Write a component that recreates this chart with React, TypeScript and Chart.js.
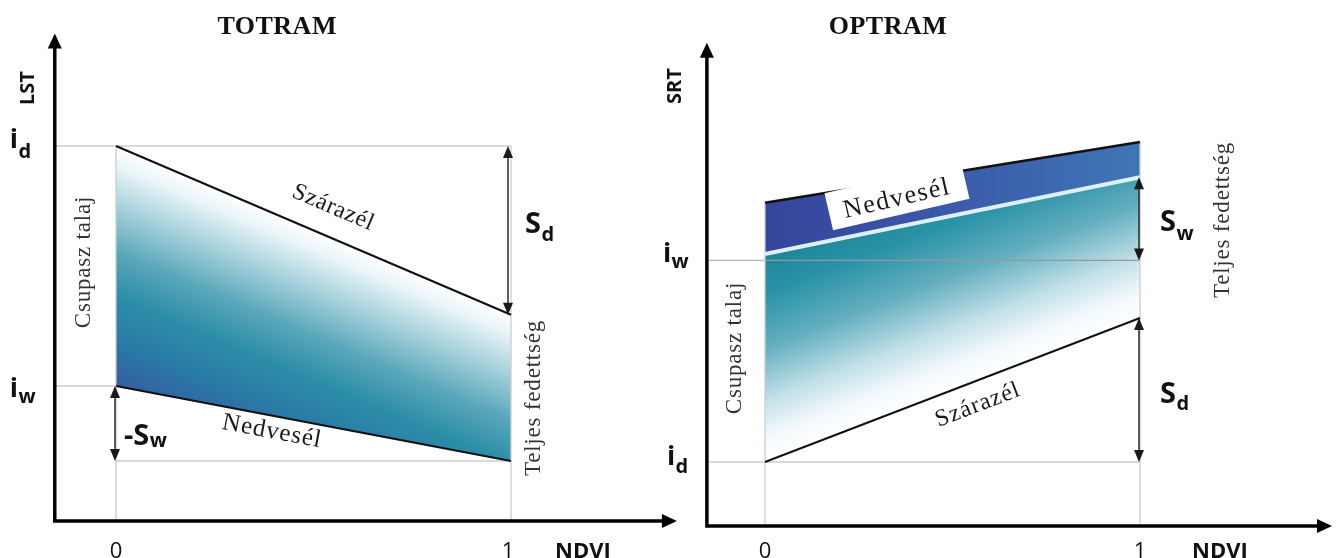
import React, { useEffect, useRef } from "react";
import { Chart, registerables } from "chart.js";

Chart.register(...registerables);

const W = 1336;
const H = 558;

// ---------------- data ----------------
const NDVI = [0, 1];
const NDVI_TICKS = ["0", "1"];
const PANEL_TITLES = ["TOTRAM", "OPTRAM"];
const Y_AXIS_NAMES = ["LST", "SRT"];
const X_AXIS_NAME = "NDVI";

// TOTRAM: LST at NDVI = 0 and NDVI = 1
const TOTRAM_DRY_EDGE = [10, 5.5];
const TOTRAM_WET_EDGE = [3.6, 1.6];
const TOTRAM_ID = 10;
const TOTRAM_IW = 3.6;

// OPTRAM: SRT at NDVI = 0 and NDVI = 1
const OPTRAM_TOP_EDGE = [10.1, 12.0];
const OPTRAM_WET_EDGE = [8.5, 10.9];
const OPTRAM_DRY_EDGE = [2.0, 6.5];
const OPTRAM_IW = 8.3;
const OPTRAM_ID = 2.0;

// axis extents (data units)
const AXIS_NDVI = -0.155;
const TOTRAM_X_END = 1.42;
const TOTRAM_Y_TOP = 13;
const OPTRAM_X_END = 1.512;
const OPTRAM_Y_TOP = 15.1;

// label box on the OPTRAM wet edge
const OPTRAM_WET_LABEL_POS = [0.352, 10.31];

// ---------------- helpers ----------------
const SERIF = '"Liberation Serif", "Times New Roman", serif';
const SANS = '"Open Sans", "Liberation Sans", sans-serif';

function xRange(p0: number, p1: number) {
  const k = p1 - p0;
  return { min: -p0 / k, max: (W - p0) / k };
}
function yRange(pZero: number, pTen: number) {
  const k = (pTen - pZero) / 10;
  return { min: (H - pZero) / k, max: -pZero / k };
}

const pts = (ys: number[]) => NDVI.map((x, i) => ({ x, y: ys[i] }));
const lerp = (arr: number[], t: number) => arr[0] + (arr[1] - arr[0]) * t;

function edgeGradient(
  chart: any,
  xId: string,
  yId: string,
  edge: number[],
  farY: number,
  stops: [number, string][]
) {
  const xs = chart.scales[xId];
  const ys = chart.scales[yId];
  if (!chart.chartArea || !xs || !ys) return "rgba(0,0,0,0)";
  const ax = xs.getPixelForValue(NDVI[0]);
  const ay = ys.getPixelForValue(edge[0]);
  const bx = xs.getPixelForValue(NDVI[1]);
  const by = ys.getPixelForValue(edge[1]);
  const len = Math.hypot(bx - ax, by - ay);
  let nx = -(by - ay) / len;
  let ny = (bx - ax) / len;
  const fy = ys.getPixelForValue(farY);
  let d = (fy - ay) * ny;
  if (d < 0) {
    nx = -nx;
    ny = -ny;
    d = -d;
  }
  const g = chart.ctx.createLinearGradient(ax, ay, ax + nx * d, ay + ny * d);
  stops.forEach(([o, c]) => g.addColorStop(o, c));
  return g;
}

function bandGradient(chart: any) {
  const xs = chart.scales.x2;
  if (!chart.chartArea || !xs) return "rgba(0,0,0,0)";
  const g = chart.ctx.createLinearGradient(
    xs.getPixelForValue(NDVI[0]),
    0,
    xs.getPixelForValue(NDVI[1]),
    0
  );
  g.addColorStop(0, "#36449c");
  g.addColorStop(0.45, "#3a58a8");
  g.addColorStop(1, "#3e76b5");
  return g;
}

function text(
  c: CanvasRenderingContext2D,
  s: string,
  x: number,
  y: number,
  font: string,
  o: { angle?: number; align?: CanvasTextAlign; baseline?: CanvasTextBaseline; color?: string; ls?: number } = {}
) {
  c.save();
  c.translate(x, y);
  if (o.angle) c.rotate((o.angle * Math.PI) / 180);
  c.font = font;
  c.fillStyle = o.color || "#111";
  c.textAlign = o.align || "center";
  c.textBaseline = o.baseline || "middle";
  (c as any).letterSpacing = (o.ls || 0) + "px";
  c.fillText(s, 0, 0);
  c.restore();
}

function sub(
  c: CanvasRenderingContext2D,
  x: number,
  y: number,
  main: string,
  s: string,
  mainSize: number,
  subSize: number,
  dy: number
) {
  c.save();
  c.fillStyle = "#111";
  c.textAlign = "left";
  c.textBaseline = "alphabetic";
  c.font = `bold ${mainSize}px ${SANS}`;
  c.fillText(main, x, y);
  const w = c.measureText(main).width;
  c.font = `bold ${subSize}px ${SANS}`;
  c.fillText(s, x + w + 0.5, y + dy);
  c.restore();
}

function head(c: CanvasRenderingContext2D, x: number, y: number, dx: number, dy: number, len: number, half: number) {
  const l = Math.hypot(dx, dy);
  const ux = dx / l;
  const uy = dy / l;
  const bx = x - ux * len;
  const by = y - uy * len;
  c.beginPath();
  c.moveTo(x, y);
  c.lineTo(bx - uy * half, by + ux * half);
  c.lineTo(bx + uy * half, by - ux * half);
  c.closePath();
  c.fill();
}

function doubleArrow(c: CanvasRenderingContext2D, x: number, yTop: number, yBot: number) {
  c.save();
  c.strokeStyle = "#2a2a2a";
  c.fillStyle = "#1a1a1a";
  c.lineWidth = 1.5;
  c.beginPath();
  c.moveTo(x, yTop + 6);
  c.lineTo(x, yBot - 6);
  c.stroke();
  head(c, x, yTop, 0, -1, 12, 5);
  head(c, x, yBot, 0, 1, 12, 5);
  c.restore();
}

function axisArrows(c: CanvasRenderingContext2D, ox: number, oy: number, topY: number, endX: number) {
  c.save();
  c.strokeStyle = "#000";
  c.fillStyle = "#000";
  c.lineWidth = 3.5;
  c.lineCap = "square";
  c.beginPath();
  c.moveTo(ox, topY + 10);
  c.lineTo(ox, oy);
  c.lineTo(endX - 10, oy);
  c.stroke();
  head(c, ox, topY, 0, -1, 15, 7);
  head(c, endX, oy, 1, 0, 15, 7);
  c.restore();
}

function hline(c: CanvasRenderingContext2D, x1: number, x2: number, y: number, color: string) {
  c.save();
  c.strokeStyle = color;
  c.lineWidth = 1.3;
  c.beginPath();
  c.moveTo(x1, y);
  c.lineTo(x2, y);
  c.stroke();
  c.restore();
}
function vline(c: CanvasRenderingContext2D, x: number, y1: number, y2: number, color: string) {
  c.save();
  c.strokeStyle = color;
  c.lineWidth = 1.3;
  c.beginPath();
  c.moveTo(x, y1);
  c.lineTo(x, y2);
  c.stroke();
  c.restore();
}

const diagramPlugin = {
  id: "diagram",
  beforeDatasetsDraw(chart: any) {
    const c: CanvasRenderingContext2D = chart.ctx;
    const X = chart.scales.x, Y = chart.scales.y, X2 = chart.scales.x2, Y2 = chart.scales.y2;
    const light = "#cdcdcd";
    // TOTRAM guides
    hline(c, X.getPixelForValue(AXIS_NDVI), X.getPixelForValue(1), Y.getPixelForValue(TOTRAM_ID), light);
    hline(c, X.getPixelForValue(AXIS_NDVI), X.getPixelForValue(0), Y.getPixelForValue(TOTRAM_IW), light);
    hline(c, X.getPixelForValue(0), X.getPixelForValue(1), Y.getPixelForValue(TOTRAM_WET_EDGE[1]), light);
    vline(c, X.getPixelForValue(0), Y.getPixelForValue(TOTRAM_ID), Y.getPixelForValue(0), light);
    vline(c, X.getPixelForValue(1), Y.getPixelForValue(TOTRAM_ID), Y.getPixelForValue(0), light);
    // OPTRAM guides
    hline(c, X2.getPixelForValue(AXIS_NDVI), X2.getPixelForValue(0), Y2.getPixelForValue(OPTRAM_IW), "#b5b5b5");
    hline(c, X2.getPixelForValue(0), X2.getPixelForValue(1), Y2.getPixelForValue(OPTRAM_IW), "#8f9a9e");
    hline(c, X2.getPixelForValue(AXIS_NDVI), X2.getPixelForValue(1), Y2.getPixelForValue(OPTRAM_ID), light);
    vline(c, X2.getPixelForValue(0), Y2.getPixelForValue(OPTRAM_TOP_EDGE[0]), Y2.getPixelForValue(0), light);
    vline(c, X2.getPixelForValue(1), Y2.getPixelForValue(OPTRAM_TOP_EDGE[1]), Y2.getPixelForValue(0), light);
  },
  afterDatasetsDraw(chart: any) {
    const c: CanvasRenderingContext2D = chart.ctx;
    const X = chart.scales.x, Y = chart.scales.y, X2 = chart.scales.x2, Y2 = chart.scales.y2;

    // ----- label box on OPTRAM wet edge -----
    {
      const bx = X2.getPixelForValue(OPTRAM_WET_LABEL_POS[0]);
      const by = Y2.getPixelForValue(OPTRAM_WET_LABEL_POS[1]);
      c.save();
      c.translate(bx, by);
      c.rotate((-13 * Math.PI) / 180);
      c.fillStyle = "#ffffff";
      c.fillRect(-70, -19, 140, 38);
      c.restore();
      text(c, "Nedvesél", bx, by + 3, `26px ${SERIF}`, { angle: -13, ls: 1.6, color: "#1a1a1a" });
    }

    // ----- double arrows -----
    doubleArrow(c, X.getPixelForValue(1) - 3, Y.getPixelForValue(TOTRAM_ID), Y.getPixelForValue(TOTRAM_DRY_EDGE[1]));
    doubleArrow(c, X.getPixelForValue(0) - 1, Y.getPixelForValue(TOTRAM_IW), Y.getPixelForValue(TOTRAM_WET_EDGE[1]));
    doubleArrow(c, X2.getPixelForValue(1) - 1, Y2.getPixelForValue(OPTRAM_WET_EDGE[1]), Y2.getPixelForValue(OPTRAM_IW));
    doubleArrow(c, X2.getPixelForValue(1) - 1, Y2.getPixelForValue(OPTRAM_DRY_EDGE[1]), Y2.getPixelForValue(OPTRAM_ID));

    // ----- axes -----
    const ax = X.getPixelForValue(AXIS_NDVI);
    const ay = Y.getPixelForValue(0);
    axisArrows(c, ax, ay, Y.getPixelForValue(TOTRAM_Y_TOP), X.getPixelForValue(TOTRAM_X_END));
    const ax2 = X2.getPixelForValue(AXIS_NDVI);
    const ay2 = Y2.getPixelForValue(0);
    axisArrows(c, ax2, ay2, Y2.getPixelForValue(OPTRAM_Y_TOP), X2.getPixelForValue(OPTRAM_X_END));

    // ----- titles -----
    text(c, PANEL_TITLES[0], X.getPixelForValue(0.408), 34, `bold 26px ${SERIF}`, { baseline: "alphabetic", ls: 0.5 });
    text(c, PANEL_TITLES[1], X2.getPixelForValue(0.328), 34, `bold 26px ${SERIF}`, { baseline: "alphabetic", ls: 0.5 });

    // ----- axis names -----
    text(c, Y_AXIS_NAMES[0], ax - 26, 88, `bold 20px ${SANS}`, { angle: -90 });
    text(c, Y_AXIS_NAMES[1], ax2 - 32, 86, `bold 20px ${SANS}`, { angle: -90 });
    NDVI.forEach((v, i) => {
      text(c, NDVI_TICKS[i], X.getPixelForValue(v) - (i === 1 ? 3 : 0), 558, `22px ${SANS}`, { baseline: "alphabetic" });
      text(c, NDVI_TICKS[i], X2.getPixelForValue(v), 558, `22px ${SANS}`, { baseline: "alphabetic" });
    });
    text(c, X_AXIS_NAME, X.getPixelForValue(1) + 72, 558, `bold 22px ${SANS}`, { baseline: "alphabetic" });
    text(c, X_AXIS_NAME, X2.getPixelForValue(1) + 80, 558, `bold 22px ${SANS}`, { baseline: "alphabetic" });

    // ----- intercept labels -----
    const yId = Y.getPixelForValue(TOTRAM_ID);
    const yIw = Y.getPixelForValue(TOTRAM_IW);
    sub(c, ax - 45, yId + 2, "i", "d", 27, 20, 10);
    sub(c, ax - 45, yIw + 11, "i", "w", 27, 20, 6);
    const yIw2 = Y2.getPixelForValue(OPTRAM_IW);
    const yId2 = Y2.getPixelForValue(OPTRAM_ID);
    sub(c, ax2 - 44, yIw2 + 2, "i", "w", 27, 20, 6);
    sub(c, ax2 - 40, yId2 + 3, "i", "d", 27, 20, 8);

    // ----- slope labels -----
    const sdMid = (yId + Y.getPixelForValue(TOTRAM_DRY_EDGE[1])) / 2;
    sub(c, X.getPixelForValue(1) + 14, sdMid + 3, "S", "d", 29, 20, 8);
    sub(c, X.getPixelForValue(0) + 8, Y.getPixelForValue(TOTRAM_WET_EDGE[1]) - 16, "-S", "w", 29, 20, 2);
    const swMid2 = (Y2.getPixelForValue(OPTRAM_WET_EDGE[1]) + yIw2) / 2;
    sub(c, X2.getPixelForValue(1) + 20, swMid2 + 12, "S", "w", 29, 20, 9);
    const sdMid2 = (Y2.getPixelForValue(OPTRAM_DRY_EDGE[1]) + yId2) / 2;
    sub(c, X2.getPixelForValue(1) + 20, sdMid2 + 13, "S", "d", 29, 20, 7);

    // ----- edge labels (rotated along the edges) -----
    const ang = (xs: any, ys: any, e: number[]) =>
      (Math.atan2(ys.getPixelForValue(e[1]) - ys.getPixelForValue(e[0]), xs.getPixelForValue(1) - xs.getPixelForValue(0)) * 180) / Math.PI;

    text(c, "Szárazél", X.getPixelForValue(0.55), Y.getPixelForValue(lerp(TOTRAM_DRY_EDGE, 0.55)) - 31, `24px ${SERIF}`, {
      angle: ang(X, Y, TOTRAM_DRY_EDGE),
      ls: 0.7,
      color: "#1a1a1a",
    });
    text(c, "Nedvesél", X.getPixelForValue(0.395), Y.getPixelForValue(lerp(TOTRAM_WET_EDGE, 0.395)) + 16, `25px ${SERIF}`, {
      angle: ang(X, Y, TOTRAM_WET_EDGE),
      ls: 1,
      color: "#1a1a1a",
    });
    text(c, "Szárazél", X2.getPixelForValue(0.568), Y2.getPixelForValue(lerp(OPTRAM_DRY_EDGE, 0.568)) + 25, `24px ${SERIF}`, {
      angle: ang(X2, Y2, OPTRAM_DRY_EDGE),
      ls: 1,
      color: "#1a1a1a",
    });

    // ----- vertical region labels -----
    text(c, "Csupasz talaj", X.getPixelForValue(0) - 32, 262, `23px ${SERIF}`, { angle: -90, ls: 0.8, color: "#333" });
    text(c, "Teljes fedettség", X.getPixelForValue(1) + 23, 398, `23px ${SERIF}`, { angle: -90, ls: 0.8, color: "#333" });
    text(c, "Csupasz talaj", X2.getPixelForValue(0) - 30, 348, `23px ${SERIF}`, { angle: -90, ls: 0.8, color: "#333" });
    text(c, "Teljes fedettség", X2.getPixelForValue(1) + 83, 220, `23px ${SERIF}`, { angle: -90, ls: 0.8, color: "#333" });
  },
};

export default function App() {
  const ref = useRef<HTMLCanvasElement>(null);

  useEffect(() => {
    const canvas = ref.current;
    if (!canvas) return;
    const chart = new Chart(canvas, {
      type: "line",
      data: {
        datasets: [
          {
            label: "TOTRAM száraz él",
            data: pts(TOTRAM_DRY_EDGE),
            xAxisID: "x",
            yAxisID: "y",
            borderColor: "#111",
            borderWidth: 2.2,
            fill: 1,
            backgroundColor: (ctx: any) =>
              edgeGradient(ctx.chart, "x", "y", TOTRAM_DRY_EDGE, TOTRAM_WET_EDGE[0], [
                [0, "#ffffff"],
                [0.08, "#eaf5f8"],
                [0.24, "#aad3dd"],
                [0.44, "#5aa7ba"],
                [0.62, "#2c8ea8"],
                [0.82, "#2a79a6"],
                [1, "#355ea2"],
              ]),
          },
          {
            label: "TOTRAM nedves él",
            data: pts(TOTRAM_WET_EDGE),
            xAxisID: "x",
            yAxisID: "y",
            borderColor: "#111",
            borderWidth: 2.2,
            fill: false,
          },
          {
            label: "OPTRAM felső",
            data: pts(OPTRAM_TOP_EDGE),
            xAxisID: "x2",
            yAxisID: "y2",
            borderColor: "#111",
            borderWidth: 2.6,
            fill: 3,
            backgroundColor: (ctx: any) => bandGradient(ctx.chart),
          },
          {
            label: "OPTRAM nedves él",
            data: pts(OPTRAM_WET_EDGE),
            xAxisID: "x2",
            yAxisID: "y2",
            borderColor: "#dcf0f5",
            borderWidth: 4,
            fill: 4,
            backgroundColor: (ctx: any) =>
              edgeGradient(ctx.chart, "x2", "y2", OPTRAM_DRY_EDGE, OPTRAM_WET_EDGE[0], [
                [0, "#ffffff"],
                [0.12, "#f3f9fb"],
                [0.3, "#c0dfe7"],
                [0.55, "#63aebf"],
                [0.8, "#2b93a8"],
                [1, "#1b8598"],
              ]),
          },
          {
            label: "OPTRAM száraz él",
            data: pts(OPTRAM_DRY_EDGE),
            xAxisID: "x2",
            yAxisID: "y2",
            borderColor: "#111",
            borderWidth: 2,
            fill: false,
          },
        ],
      },
      options: {
        responsive: false,
        animation: false,
        events: [],
        layout: { padding: 0 },
        elements: { point: { radius: 0 }, line: { tension: 0 } },
        plugins: {
          legend: { display: false },
          tooltip: { enabled: false },
          filler: { drawTime: "beforeDatasetsDraw", propagate: false },
        },
        scales: {
          x: { type: "linear", axis: "x", display: false, bounds: "data", ...xRange(116, 511) },
          y: { type: "linear", axis: "y", display: false, bounds: "data", ...yRange(521, 146) },
          x2: { type: "linear", axis: "x", display: false, bounds: "data", ...xRange(765, 1140) },
          y2: { type: "linear", axis: "y", display: false, bounds: "data", ...yRange(526, 206) },
        },
      } as any,
      plugins: [diagramPlugin],
    } as any);
    return () => chart.destroy();
  }, []);

  return (
    <div style={{ position: "absolute", left: 0, top: 0, width: W, height: H, background: "#fff" }}>
      <canvas ref={ref} width={W} height={H} style={{ display: "block", width: W, height: H }} />
    </div>
  );
}
